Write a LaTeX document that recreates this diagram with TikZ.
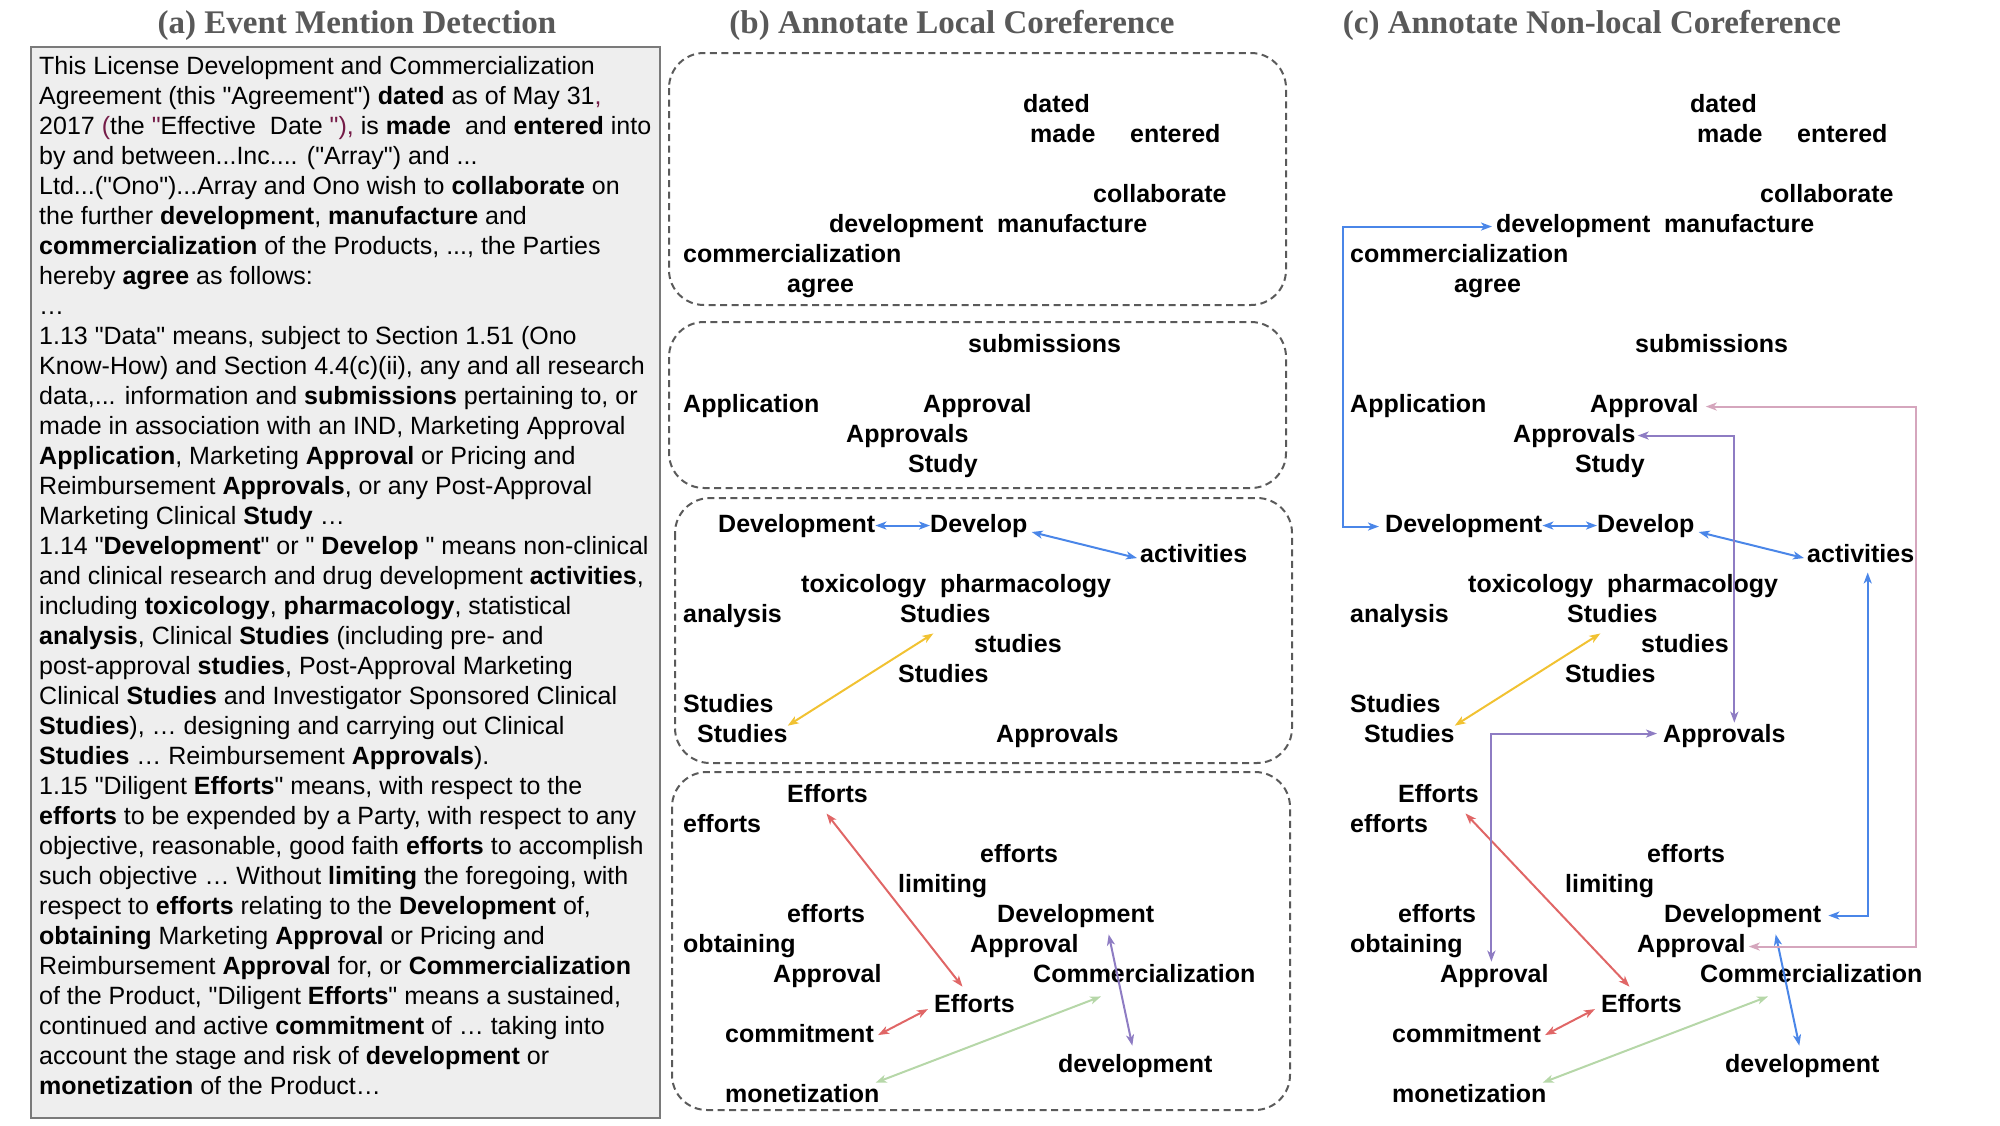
\documentclass[tikz,border=0pt]{standalone}
\usepackage{fontspec}
\setmainfont{Liberation Sans}[Ligatures=TeXOff]
\newfontfamily\ttlserif{Liberation Serif}
\usetikzlibrary{arrows.meta,calc}
\definecolor{cblue}{HTML}{4A86E8}
\definecolor{cred}{HTML}{E06666}
\definecolor{cyellow}{HTML}{F1C232}
\definecolor{cgreen}{HTML}{B6D7A8}
\definecolor{cpurple}{HTML}{8E7CC3}
\definecolor{cpink}{HTML}{D5A6BD}
\definecolor{titlegray}{HTML}{595959}
\definecolor{boxgray}{HTML}{5A5A5A}
\definecolor{afill}{HTML}{EEEEEE}
\definecolor{aborder}{HTML}{7A7A7A}
\definecolor{purptext}{HTML}{741B47}
\newcommand\wfont{\fontsize{25}{30}\selectfont\bfseries}
\newcommand\tfont{\fontsize{25}{30}\selectfont}
\newcommand\ttlfont{\ttlserif\fontsize{33}{36}\selectfont\bfseries}
\newcommand\purp[1]{\textcolor{purptext}{#1}}
\tikzset{
  w/.style={font=\wfont, inner ysep=2pt, inner xsep=0pt, anchor=base west},
  tl/.style={font=\tfont, inner sep=0pt, anchor=base west},
  ttl/.style={font=\ttlfont, text=titlegray, anchor=base, inner sep=0pt},
  arr/.style={line width=2pt, {Stealth[length=11pt,width=8pt,inset=3pt]}-{Stealth[length=11pt,width=8pt,inset=3pt]}},
  panelbox/.style={draw=boxgray, line width=2pt, dash pattern=on 7pt off 4.5pt, rounded corners=35pt},
  abox/.style={draw=aborder, fill=afill, line width=2pt}
}
% #1 prefix, #2 x of the two displaced "Efforts"/"efforts" words
\newcommand\wordlayer[2]{%
\node[w] (#1dated) at (1023,112) {dated};
\node[w] (#1made) at (1030,142) {made};
\node[w] (#1entered) at (1130,142) {entered};
\node[w] (#1collaborate) at (1093,202) {collaborate};
\node[w] (#1development) at (829,232) {development};
\node[w] (#1manufacture) at (997,232) {manufacture};
\node[w] (#1commercialization) at (683,262) {commercialization};
\node[w] (#1agree) at (787,292) {agree};
\node[w] (#1submissions) at (968,352) {submissions};
\node[w] (#1Application) at (683,412) {Application};
\node[w] (#1ApprovalA) at (923,412) {Approval};
\node[w] (#1ApprovalsA) at (846,442) {Approvals};
\node[w] (#1Study) at (908,472) {Study};
\node[w] (#1DevelopmentA) at (718,532) {Development};
\node[w] (#1Develop) at (930,532) {Develop};
\node[w] (#1activities) at (1140,562) {activities};
\node[w] (#1toxicology) at (801,592) {toxicology};
\node[w] (#1pharmacology) at (940,592) {pharmacology};
\node[w] (#1analysis) at (683,622) {analysis};
\node[w] (#1StudiesA) at (900,622) {Studies};
\node[w] (#1studiesB) at (974,652) {studies};
\node[w] (#1StudiesC) at (898,682) {Studies};
\node[w] (#1StudiesD) at (683,712) {Studies};
\node[w] (#1StudiesE) at (697,742) {Studies};
\node[w] (#1ApprovalsB) at (996,742) {Approvals};
\node[w] (#1EffortsA) at (#2,802) {Efforts};
\node[w] (#1effortsB) at (683,832) {efforts};
\node[w] (#1effortsC) at (980,862) {efforts};
\node[w] (#1limiting) at (898,892) {limiting};
\node[w] (#1effortsD) at (#2,922) {efforts};
\node[w] (#1DevelopmentB) at (997,922) {Development};
\node[w] (#1obtaining) at (683,952) {obtaining};
\node[w] (#1ApprovalB) at (970,952) {Approval};
\node[w] (#1ApprovalC) at (773,982) {Approval};
\node[w] (#1Commercialization) at (1033,982) {Commercialization};
\node[w] (#1EffortsE) at (934,1012) {Efforts};
\node[w] (#1commitment) at (725,1042) {commitment};
\node[w] (#1developmentC) at (1058,1072) {development};
\node[w] (#1monetization) at (725,1102) {monetization};
}
% #1 prefix, #2 colour of Development<->development, #3 x offset of the long red arrow start
\newcommand\localarrows[3]{%
\draw[arr,cblue] (#1DevelopmentA.east) -- (#1Develop.west);
\draw[arr,cblue] ($(#1Develop.base east)+(4,0)$) -- ($(#1activities.west)+(-3,5)$);
\draw[arr,cyellow] ($(#1StudiesA.south)+(-12,9)$) -- ($(#1StudiesE.north east)+(0,4)$);
\draw[arr,cred] ($(#1EffortsA.south)+(#3,9)$) -- ($(#1EffortsE.north)+(-12,-5)$);
\draw[arr,cred] ($(#1commitment.east)+(4,2)$) -- ($(#1EffortsE.west)+(-6,6)$);
\draw[arr,cgreen] ($(#1monetization.north east)+(-4,1)$) -- ($(#1Commercialization.south west)+(68,12)$);
\draw[arr,#2] ($(#1DevelopmentB.south)+(33,5)$) -- ($(#1developmentC.north)+(-3,-6)$);
}
\begin{document}
\begin{tikzpicture}[x=1pt,y=-1pt]
\path[use as bounding box] (0,0) rectangle (2000,1125);
% titles
\node[ttl] (ta) at (357,33) {(a) Event Mention Detection};
\node[ttl] (tb) at (952,33) {(b) Annotate Local Coreference};
\node[ttl] (tc) at (1592,33) {(c) Annotate Non-local Coreference};
% panel (a)
\draw[abox] (31,47) rectangle (660,1118);
\node[tl] (t1) at (39,74) {This License Development and Commercialization};
\node[tl] (t2) at (39,104) {Agreement (this "Agreement") \textbf{dated} as of May 31\purp{,}};
\node[tl] (t3) at (39,134) {2017 \purp{(}the \purp{"}Effective\ \ Date \purp{")}\purp{,} is \textbf{made}\ \ and \textbf{entered} into};
\node[tl] (t4) at (39,164) {by and between...Inc.... ("Array") and ...};
\node[tl] (t5) at (39,194) {Ltd...("Ono")...Array and Ono wish to \textbf{collaborate} on};
\node[tl] (t6) at (39,224) {the further \textbf{development}, \textbf{manufacture} and};
\node[tl] (t7) at (39,254) {\textbf{commercialization} of the Products, ..., the Parties};
\node[tl] (t8) at (39,284) {hereby \textbf{agree} as follows:};
\node[tl] (t9) at (39,314) {…};
\node[tl] (t10) at (39,344) {1.13 "Data" means, subject to Section 1.51 (Ono};
\node[tl] (t11) at (39,374) {Know-How) and Section 4.4(c)(ii), any and all research};
\node[tl] (t12) at (39,404) {data,... information and \textbf{submissions} pertaining to, or};
\node[tl] (t13) at (39,434) {made in association with an IND, Marketing Approval};
\node[tl] (t14) at (39,464) {\textbf{Application}, Marketing \textbf{Approval} or Pricing and};
\node[tl] (t15) at (39,494) {Reimbursement \textbf{Approvals}, or any Post-Approval};
\node[tl] (t16) at (39,524) {Marketing Clinical \textbf{Study} …};
\node[tl] (t17) at (39,554) {1.14 "\textbf{Development}" or " \textbf{Develop} " means non-clinical};
\node[tl] (t18) at (39,584) {and clinical research and drug development \textbf{activities},};
\node[tl] (t19) at (39,614) {including \textbf{toxicology}, \textbf{pharmacology}, statistical};
\node[tl] (t20) at (39,644) {\textbf{analysis}, Clinical \textbf{Studies} (including pre- and};
\node[tl] (t21) at (39,674) {post-approval \textbf{studies}, Post-Approval Marketing};
\node[tl] (t22) at (39,704) {Clinical \textbf{Studies} and Investigator Sponsored Clinical};
\node[tl] (t23) at (39,734) {\textbf{Studies}), … designing and carrying out Clinical};
\node[tl] (t24) at (39,764) {\textbf{Studies} … Reimbursement \textbf{Approvals}).};
\node[tl] (t25) at (39,794) {1.15 "Diligent \textbf{Efforts}" means, with respect to the};
\node[tl] (t26) at (39,824) {\textbf{efforts} to be expended by a Party, with respect to any};
\node[tl] (t27) at (39,854) {objective, reasonable, good faith \textbf{efforts} to accomplish};
\node[tl] (t28) at (39,884) {such objective … Without \textbf{limiting} the foregoing, with};
\node[tl] (t29) at (39,914) {respect to \textbf{efforts} relating to the \textbf{Development} of,};
\node[tl] (t30) at (39,944) {\textbf{obtaining} Marketing \textbf{Approval} or Pricing and};
\node[tl] (t31) at (39,974) {Reimbursement \textbf{Approval} for, or \textbf{Commercialization}};
\node[tl] (t32) at (39,1004) {of the Product, "Diligent \textbf{Efforts}" means a sustained,};
\node[tl] (t33) at (39,1034) {continued and active \textbf{commitment} of … taking into};
\node[tl] (t34) at (39,1064) {account the stage and risk of \textbf{development} or};
\node[tl] (t35) at (39,1094) {\textbf{monetization} of the Product…};
% panel (b) boxes
\draw[panelbox] (669,53) rectangle (1286,305);
\draw[panelbox] (669,322) rectangle (1286,488);
\draw[panelbox] (675,498) rectangle (1292,763);
\draw[panelbox] (672,772) rectangle (1290,1110);
% words
\wordlayer{b}{787}
\begin{scope}[xshift=667pt]
\wordlayer{c}{731}
\end{scope}
% arrows
\localarrows{b}{cpurple}{-1}
\localarrows{c}{cblue}{27}
% non-local arrows in (c)
\coordinate (cleft) at (1343,0);
\coordinate (pinkx) at (1916,0);
\coordinate (cdevA) at ($(cdevelopment.west)+(-4,1)$);
\coordinate (cDevA) at ($(cDevelopmentA.west)+(-6,1)$);
\draw[arr,cblue] (cdevA) -| (cleft |- cDevA) -- (cDevA);
\coordinate (cDevB) at ($(cDevelopmentB.east)+(7,0)$);
\coordinate (cactS) at ($(cactivities.south)+(7,8)$);
\draw[arr,cblue] (cDevB) -| (cactS);
\coordinate (cApA) at ($(cApprovalA.east)+(7,1)$);
\coordinate (cApB) at ($(cApprovalB.east)+(3,1)$);
\draw[arr,cpink] (cApA) -- (pinkx |- cApA) |- (cApB);
\coordinate (cAsA) at ($(cApprovalsA.east)+(2,0)$);
\coordinate (cAsBn) at ($(cApprovalsB.north)+(10,1)$);
\draw[arr,cpurple] (cAsA) -| (cAsBn);
\coordinate (cAsBw) at ($(cApprovalsB.west)+(-6,-2)$);
\coordinate (cApCn) at ($(cApprovalC.north)+(-3,0)$);
\draw[arr,cpurple] (cAsBw) -| (cApCn);
\end{tikzpicture}
\end{document}
